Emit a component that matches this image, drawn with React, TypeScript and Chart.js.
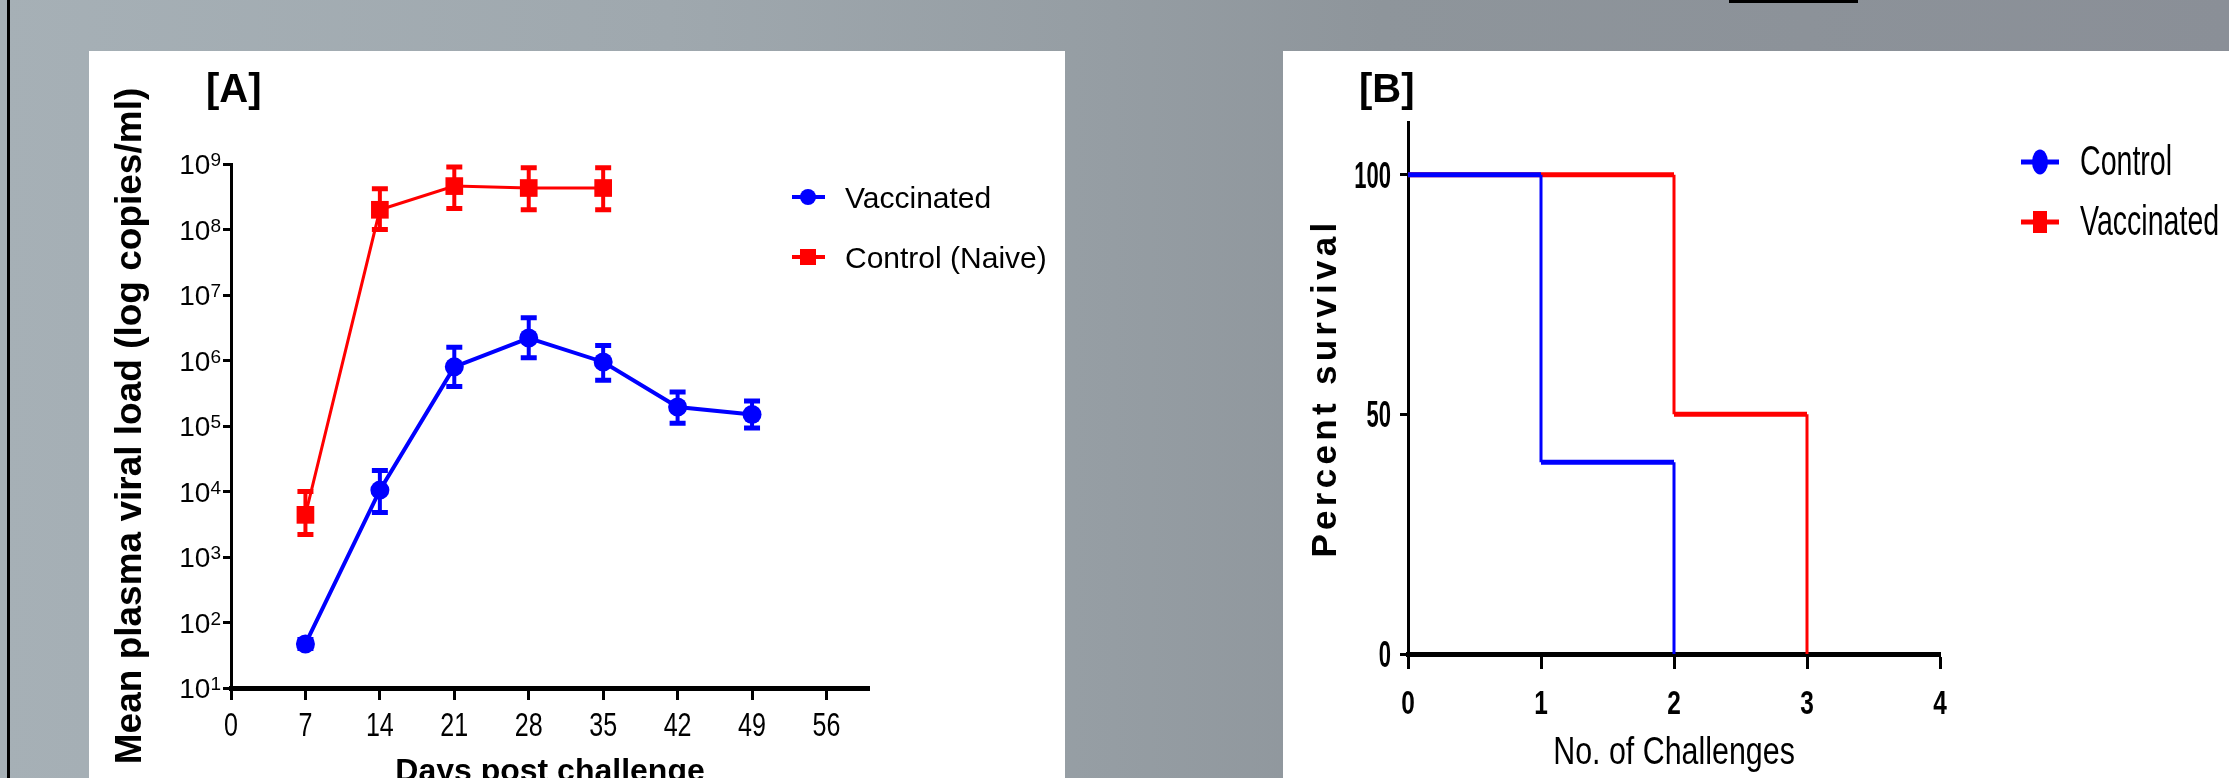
import React, { useEffect, useRef } from "react";
import { Chart, registerables } from "chart.js";

Chart.register(...registerables);

const W = 2229;
const H = 778;
const FONT = '"Liberation Sans", Arial, Helvetica, sans-serif';
const BLUE = "#0000ff";
const RED = "#ff0000";

// ---------- Panel A : viral load ----------
const days = [7, 14, 21, 28, 35, 42, 49];
const vaccinatedMean = [47, 10500, 800000, 2200000, 950000, 195000, 150000];
const vaccinatedUpper = [55, 21000, 1600000, 4500000, 1700000, 330000, 240000];
const vaccinatedLower = [40, 4800, 400000, 1100000, 500000, 110000, 93000];
const naiveDays = [7, 14, 21, 28, 35];
const naiveMean = [4400, 200000000, 460000000, 430000000, 430000000];
const naiveUpper = [10000, 420000000, 900000000, 880000000, 880000000];
const naiveLower = [2200, 100000000, 210000000, 200000000, 200000000];
const dayTicks = [0, 7, 14, 21, 28, 35, 42, 49, 56];
const loadTicks = [1e1, 1e2, 1e3, 1e4, 1e5, 1e6, 1e7, 1e8, 1e9];

// ---------- Panel B : survival ----------
const challengeTicks = [0, 1, 2, 3, 4];
const percentTicks = [0, 50, 100];
const controlTimes = [0, 1, 2];
const controlSurvival = [100, 40, 0];
const vaccTimes = [0, 2, 3];
const vaccSurvival = [100, 50, 0];

type TOpts = {
  font: string;
  align?: CanvasTextAlign;
  sx?: number;
  sy?: number;
  rot?: number;
  spacing?: number;
  color?: string;
};

function drawText(ctx: CanvasRenderingContext2D, s: string, x: number, y: number, o: TOpts) {
  ctx.save();
  ctx.translate(x, y);
  if (o.rot) ctx.rotate(o.rot);
  ctx.scale(o.sx ?? 1, o.sy ?? 1);
  ctx.font = o.font;
  ctx.fillStyle = o.color ?? "#000";
  ctx.textAlign = o.align ?? "left";
  ctx.textBaseline = "alphabetic";
  if (o.spacing) (ctx as any).letterSpacing = o.spacing + "px";
  ctx.fillText(s, 0, 0);
  ctx.restore();
}

function steps(times: number[], surv: number[]) {
  const h: any[] = [];
  const v: any[] = [];
  for (let i = 0; i < times.length - 1; i++) {
    h.push({ x: times[i], y: surv[i] }, { x: times[i + 1], y: surv[i] }, { x: times[i + 1], y: null });
    v.push({ x: times[i + 1], y: surv[i] }, { x: times[i + 1], y: surv[i + 1] }, { x: times[i + 1], y: null });
  }
  return { h, v };
}

const errorSeries = [
  { xs: days, lo: vaccinatedLower, hi: vaccinatedUpper, color: BLUE },
  { xs: naiveDays, lo: naiveLower, hi: naiveUpper, color: RED },
];

const panelAPlugin = {
  id: "panelA",
  beforeDatasetsDraw(chart: any) {
    const ctx = chart.ctx as CanvasRenderingContext2D;
    const xs = chart.scales.x;
    const ys = chart.scales.y;
    ctx.save();
    for (const s of errorSeries) {
      ctx.strokeStyle = s.color;
      for (let i = 0; i < s.xs.length; i++) {
        const px = xs.getPixelForValue(s.xs[i]);
        const yl = ys.getPixelForValue(s.lo[i]);
        const yh = ys.getPixelForValue(s.hi[i]);
        ctx.lineWidth = 4;
        ctx.beginPath();
        ctx.moveTo(px, yl);
        ctx.lineTo(px, yh);
        ctx.stroke();
        ctx.lineWidth = 5;
        ctx.beginPath();
        ctx.moveTo(px - 8, yl);
        ctx.lineTo(px + 8, yl);
        ctx.moveTo(px - 8, yh);
        ctx.lineTo(px + 8, yh);
        ctx.stroke();
      }
    }
    ctx.restore();
  },
  afterDraw(chart: any) {
    const ctx = chart.ctx as CanvasRenderingContext2D;
    const xs = chart.scales.x;
    const ys = chart.scales.y;
    drawText(ctx, "[A]", 206, 102, { font: `bold 40px ${FONT}` });
    // y tick labels 10^n
    for (const t of ys.ticks) {
      const py = ys.getPixelForValue(t.value);
      const exp = String(Math.round(Math.log10(t.value)));
      ctx.font = `28px ${FONT}`;
      const w1 = ctx.measureText("10").width;
      ctx.font = `19px ${FONT}`;
      const w2 = ctx.measureText(exp).width;
      const right = 221;
      drawText(ctx, "10", right - w2 - w1, py + 10, { font: `28px ${FONT}` });
      drawText(ctx, exp, right - w2, py + 2, { font: `19px ${FONT}` });
    }
    for (const t of xs.ticks) {
      drawText(ctx, String(t.value), xs.getPixelForValue(t.value), 736, {
        font: `33px ${FONT}`,
        sx: 0.76,
        align: "center",
      });
    }
    drawText(ctx, "Days post challenge", (xs.left + xs.right) / 2, 781, {
      font: `bold 32px ${FONT}`,
      align: "center",
    });
    drawText(ctx, "Mean plasma viral load (log copies/ml)", 141, (ys.top + ys.bottom) / 2, {
      font: `bold 37px ${FONT}`,
      align: "center",
      rot: -Math.PI / 2,
    });
    // legend
    const rows = [197, 257];
    chart.data.datasets.forEach((ds: any, i: number) => {
      const y = rows[i];
      ctx.save();
      ctx.strokeStyle = ds.borderColor;
      ctx.fillStyle = ds.borderColor;
      ctx.lineWidth = 4;
      ctx.beginPath();
      ctx.moveTo(792, y);
      ctx.lineTo(825, y);
      ctx.stroke();
      if (ds.pointStyle === "circle") {
        ctx.beginPath();
        ctx.arc(808, y, 8, 0, Math.PI * 2);
        ctx.fill();
      } else {
        ctx.fillRect(800, y - 8, 16, 16);
      }
      ctx.restore();
      drawText(ctx, ds.label, 845, y + 11, { font: `30px ${FONT}` });
    });
  },
};

const panelBPlugin = {
  id: "panelB",
  afterDraw(chart: any) {
    const ctx = chart.ctx as CanvasRenderingContext2D;
    const xs = chart.scales.x;
    const ys = chart.scales.y;
    drawText(ctx, "[B]", 1359, 102, { font: `bold 40px ${FONT}` });
    for (const t of ys.ticks) {
      const py = ys.getPixelForValue(t.value);
      drawText(ctx, String(t.value), 1391, py + 13, { font: `bold 36px ${FONT}`, sx: 0.61, align: "right" });
    }
    for (const t of xs.ticks) {
      drawText(ctx, String(t.value), xs.getPixelForValue(t.value), 714, {
        font: `bold 33px ${FONT}`,
        sx: 0.74,
        align: "center",
      });
    }
    drawText(ctx, "No. of Challenges", (xs.left + xs.right) / 2, 764, {
      font: `38px ${FONT}`,
      sx: 0.8,
      align: "center",
    });
    drawText(ctx, "Percent survival", 1336, (ys.top + ys.bottom) / 2, {
      font: `bold 35px ${FONT}`,
      align: "center",
      rot: -Math.PI / 2,
      spacing: 4.3,
    });
    // legend
    const rows = [162, 222];
    const legendSets = chart.data.datasets.filter((d: any) => d.legend);
    legendSets.forEach((ds: any, i: number) => {
      const y = rows[i];
      ctx.save();
      ctx.strokeStyle = ds.borderColor;
      ctx.fillStyle = ds.borderColor;
      ctx.lineWidth = 5;
      ctx.beginPath();
      ctx.moveTo(2021, y);
      ctx.lineTo(2059, y);
      ctx.stroke();
      if (ds.legend === "circle") {
        ctx.beginPath();
        ctx.ellipse(2040, y, 8, 12.5, 0, 0, Math.PI * 2);
        ctx.fill();
      } else {
        ctx.fillRect(2033, y - 11, 14, 22);
      }
      ctx.restore();
      drawText(ctx, ds.label, 2080, y + 13, { font: `42px ${FONT}`, sx: 0.68 });
    });
  },
};

function tickGrid(len: number) {
  return {
    display: true,
    drawOnChartArea: false,
    drawTicks: true,
    tickLength: len,
    tickWidth: 3,
    tickColor: "#000",
  };
}

export default function App() {
  const refA = useRef<HTMLCanvasElement>(null);
  const refB = useRef<HTMLCanvasElement>(null);

  useEffect(() => {
    const chartA = new Chart(refA.current as HTMLCanvasElement, {
      type: "line",
      data: {
        datasets: [
          {
            label: "Vaccinated",
            data: days.map((d, i) => ({ x: d, y: vaccinatedMean[i] })),
            borderColor: BLUE,
            backgroundColor: BLUE,
            borderWidth: 4,
            pointStyle: "circle",
            pointRadius: 9.5,
            pointBorderWidth: 0,
            pointBackgroundColor: BLUE,
            tension: 0,
          },
          {
            label: "Control (Naive)",
            data: naiveDays.map((d, i) => ({ x: d, y: naiveMean[i] })),
            borderColor: RED,
            backgroundColor: RED,
            borderWidth: 3,
            pointStyle: "rect",
            pointRadius: 12.5,
            pointBorderWidth: 0,
            pointBackgroundColor: RED,
            tension: 0,
          },
        ] as any,
      },
      options: {
        responsive: false,
        animation: false,
        devicePixelRatio: 1,
        events: [],
        layout: { padding: { left: 0, top: 164, right: W - 869, bottom: 0 }, autoPadding: false },
        plugins: { legend: { display: false }, tooltip: { enabled: false }, title: { display: false } },
        scales: {
          x: {
            type: "linear",
            position: "bottom",
            min: 0,
            max: 60,
            afterBuildTicks: (s: any) => {
              s.ticks = dayTicks.map((v) => ({ value: v }));
            },
            afterFit: (s: any) => {
              s.height = H - 688;
            },
            ticks: { display: false },
            grid: tickGrid(12),
            border: { display: true, color: "#000", width: 5 },
          },
          y: {
            type: "logarithmic",
            position: "left",
            min: 10,
            max: 1e9,
            afterBuildTicks: (s: any) => {
              s.ticks = loadTicks.map((v) => ({ value: v }));
            },
            afterFit: (s: any) => {
              s.width = 231;
            },
            ticks: { display: false },
            grid: tickGrid(8),
            border: { display: true, color: "#000", width: 3 },
          },
        },
      } as any,
      plugins: [panelAPlugin],
    });

    const c = steps(controlTimes, controlSurvival);
    const v = steps(vaccTimes, vaccSurvival);
    const common = { pointRadius: 0, spanGaps: false, tension: 0, fill: false };
    const chartB = new Chart(refB.current as HTMLCanvasElement, {
      type: "line",
      data: {
        datasets: [
          { ...common, label: "Control", legend: "circle", data: c.h, borderColor: BLUE, borderWidth: 5 },
          { ...common, label: "Control drop", data: c.v, borderColor: BLUE, borderWidth: 3 },
          { ...common, label: "Vaccinated", legend: "rect", data: v.h, borderColor: RED, borderWidth: 5 },
          { ...common, label: "Vaccinated drop", data: v.v, borderColor: RED, borderWidth: 3 },
        ] as any,
      },
      options: {
        responsive: false,
        animation: false,
        devicePixelRatio: 1,
        events: [],
        layout: { padding: { left: 0, top: 122, right: W - 1940, bottom: 0 }, autoPadding: false },
        plugins: { legend: { display: false }, tooltip: { enabled: false }, title: { display: false } },
        scales: {
          x: {
            type: "linear",
            position: "bottom",
            min: 0,
            max: 4,
            afterBuildTicks: (s: any) => {
              s.ticks = challengeTicks.map((t) => ({ value: t }));
            },
            afterFit: (s: any) => {
              s.height = H - 654;
            },
            ticks: { display: false },
            grid: tickGrid(15),
            border: { display: true, color: "#000", width: 5 },
          },
          y: {
            type: "linear",
            position: "left",
            min: 0,
            max: 111,
            afterBuildTicks: (s: any) => {
              s.ticks = percentTicks.map((t) => ({ value: t }));
            },
            afterFit: (s: any) => {
              s.width = 1408;
            },
            ticks: { display: false },
            grid: tickGrid(8),
            border: { display: true, color: "#000", width: 3 },
          },
        },
      } as any,
      plugins: [panelBPlugin],
    });

    return () => {
      chartA.destroy();
      chartB.destroy();
    };
  }, []);

  const abs: React.CSSProperties = { position: "absolute" };
  return (
    <div
      style={{
        position: "fixed",
        left: 0,
        top: 0,
        width: W,
        height: H,
        overflow: "hidden",
        background:
          "linear-gradient(to right, #a6b0b6 0%, #9fa8ae 30%, #959da3 50%, #8e959b 62%, #8a8f97 100%)",
      }}
    >
      <div style={{ ...abs, left: 7, top: 0, width: 2.5, height: H, background: "#000" }} />
      <div style={{ ...abs, left: 1729, top: 0, width: 129, height: 2.5, background: "#000" }} />
      <div style={{ ...abs, left: 89, top: 51, width: 976, height: H - 51, background: "#fff" }} />
      <div style={{ ...abs, left: 1283, top: 51, width: W - 1283, height: H - 51, background: "#fff" }} />
      <canvas ref={refA} width={W} height={H} style={{ ...abs, left: 0, top: 0, width: W, height: H }} />
      <canvas ref={refB} width={W} height={H} style={{ ...abs, left: 0, top: 0, width: W, height: H }} />
    </div>
  );
}
